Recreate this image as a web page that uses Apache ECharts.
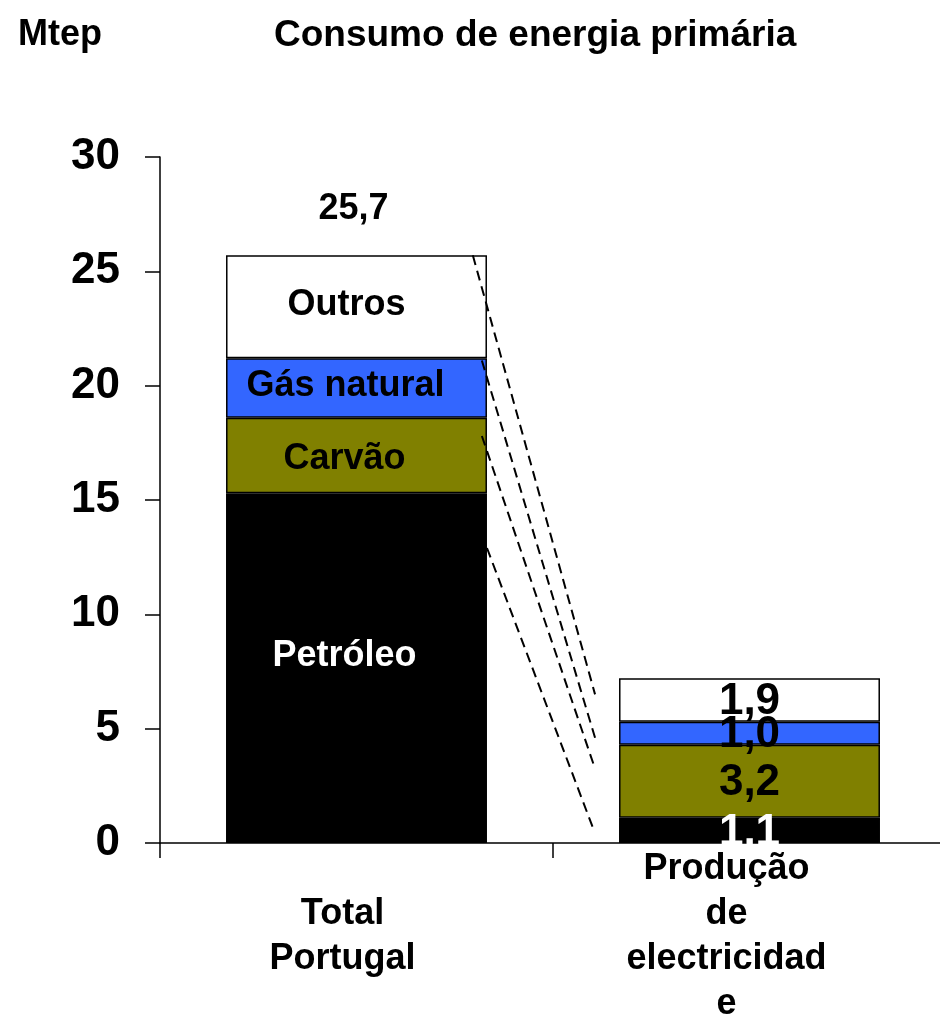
<!DOCTYPE html>
<html>
<head>
<meta charset="utf-8">
<script src="https://cdn.jsdelivr.net/npm/echarts@6/dist/echarts.min.js"></script>
<style>
  html, body { margin: 0; padding: 0; background: #fff; }
  #chart { width: 940px; height: 1016px; }
</style>
</head>
<body>
<div id="chart"></div>
<script>
// categorias e valores (Mtep)
var categories = ["Total\nPortugal", "Produção\nde\nelectricidad\ne"];
var fuels = ["Petróleo", "Carvão", "Gás natural", "Outros"];
var petroleo = [15.3, 1.1];
var carvao = [3.3, 3.2];
var gasNatural = [2.6, 1.0];
var outros = [4.5, 1.9];
var yTicks = [0, 5, 10, 15, 20, 25, 30];

// linhas tracejadas que ligam as barras (x: 0 = 1ª barra, 1 = 2ª barra)
var linkFrom = [[0.296, 25.7], [0.319, 21.1], [0.319, 17.8], [0.332, 12.9]];
var linkTo = [[0.607, 6.5], [0.607, 4.6], [0.603, 3.45], [0.603, 0.6]];

var colors = ["#000000", "#808000", "#3366ff", "#ffffff"];
var values = [petroleo, carvao, gasNatural, outros];
var total = petroleo[0] + carvao[0] + gasNatural[0] + outros[0];

var FONT = "Liberation Sans";
// pequenos ajustes da posição dos nomes na 1ª barra
var nameOffsets = [[-12, -12], [-12, 4], [-11, -2], [-10, -2]];

function fmt(v) {
  return v.toFixed(1).replace(".", ",");
}

var barSeries = fuels.map(function (name, i) {
  var txt = i === 0 ? "#fff" : "#000";
  return {
    name: name,
    type: "bar",
    stack: "total",
    barWidth: "66.4%",
    itemStyle: { color: colors[i], borderColor: "#000", borderWidth: 1.5 },
    data: [
      {
        value: values[i][0],
        label: {
          show: true,
          position: "inside",
          formatter: name,
          color: txt,
          fontSize: 36,
          fontWeight: "bold",
          fontFamily: FONT,
          offset: nameOffsets[i],
        },
      },
      {
        value: values[i][1],
        label: {
          show: true,
          position: "inside",
          formatter: fmt(values[i][1]),
          color: txt,
          fontSize: 44,
          fontWeight: "bold",
          fontFamily: FONT,
          offset: [0, 2],
        },
      },
    ],
  };
});

var linkSeries = linkFrom.map(function (p, i) {
  return {
    type: "line",
    xAxisIndex: 1,
    symbol: "none",
    silent: true,
    lineStyle: { color: "#000", width: 2, type: [10, 6] },
    data: [p, linkTo[i]],
    z: 5,
  };
});

var chart = echarts.init(document.getElementById("chart"));
chart.setOption({
  backgroundColor: "#fff",
  animation: false,
  title: [
    {
      text: "Mtep",
      left: 13,
      top: 12,
      textStyle: { fontSize: 36, fontWeight: "bold", fontFamily: FONT, color: "#000" },
    },
    {
      text: "Consumo de energia primária",
      left: 269,
      top: 12,
      textStyle: { fontSize: 37, fontWeight: "bold", fontFamily: FONT, color: "#000" },
    },
  ],
  grid: {
    left: 160,
    top: 157,
    width: 786,
    height: 686,
    containLabel: false,
    outerBoundsMode: "none",
  },
  xAxis: [
    {
      type: "category",
      data: categories,
      axisLine: { onZero: false, lineStyle: { color: "#000", width: 1.5 } },
      axisTick: { show: true, length: 15, lineStyle: { color: "#000", width: 1.5 } },
      axisLabel: {
        color: "#000",
        fontSize: 36,
        fontWeight: "bold",
        fontFamily: FONT,
        lineHeight: 45,
        verticalAlign: "middle",
        margin: 94,
        interval: 0,
        formatter: function (v, idx) {
          var tag = idx === 0 ? "a" : "b";
          return v
            .split("\n")
            .map(function (l) {
              return "{" + tag + "|" + l + "}";
            })
            .join("\n");
        },
        rich: {
          a: { fontSize: 36, fontWeight: "bold", fontFamily: FONT, lineHeight: 45, padding: [0, 28, 0, 0] },
          b: { fontSize: 36, fontWeight: "bold", fontFamily: FONT, lineHeight: 45, padding: [0, 46, 0, 0] },
        },
      },
    },
    {
      type: "value",
      min: -0.5,
      max: 1.5,
      show: false,
    },
  ],
  yAxis: {
    type: "value",
    min: yTicks[0],
    max: yTicks[yTicks.length - 1],
    interval: 5,
    splitLine: { show: false },
    axisLine: { show: true, onZero: false, lineStyle: { color: "#000", width: 1.5 } },
    axisTick: { show: true, length: 15, lineStyle: { color: "#000", width: 1.5 } },
    axisLabel: {
      color: "#000",
      fontSize: 44,
      fontWeight: "bold",
      fontFamily: FONT,
      margin: 40,
      padding: [9, 0, 0, 0],
    },
  },
  series: barSeries.concat(linkSeries).concat([
    {
      type: "scatter",
      symbolSize: 0,
      silent: true,
      itemStyle: { opacity: 1 },
      data: [[0, total]],
      label: {
        show: true,
        position: "top",
        distance: 28,
        offset: [-3, 0],
        formatter: fmt(total),
        color: "#000",
        opacity: 1,
        fontSize: 36,
        fontWeight: "bold",
        fontFamily: FONT,
      },
    },
  ]),
});
</script>
</body>
</html>
